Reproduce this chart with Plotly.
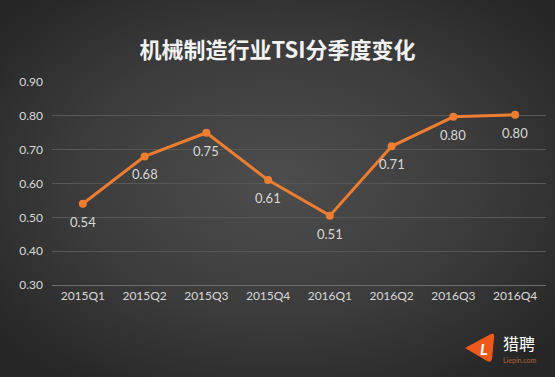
import base64
import plotly.graph_objects as go

categories = ["2015Q1", "2015Q2", "2015Q3", "2015Q4", "2016Q1", "2016Q2", "2016Q3", "2016Q4"]
tsi_values = [0.54, 0.68, 0.75, 0.61, 0.505, 0.71, 0.797, 0.803]
y_ticks = [0.30, 0.40, 0.50, 0.60, 0.70, 0.80, 0.90]
title_text = "机械制造行业TSI分季度变化"

W, H = 555, 377
svg = f'''<svg xmlns="http://www.w3.org/2000/svg" width="{W}" height="{H}" viewBox="0 0 {W} {H}" preserveAspectRatio="none">
<defs><radialGradient id="g" cx="50%" cy="48%" r="65%">
<stop offset="0%" stop-color="#4d4d4d"/><stop offset="55%" stop-color="#3c3c3c"/><stop offset="100%" stop-color="#262626"/>
</radialGradient></defs><rect width="{W}" height="{H}" fill="url(#g)"/></svg>'''
bg_uri = "data:image/svg+xml;base64," + base64.b64encode(svg.encode()).decode()

orange = "#ED7D31"
label_col = "#d9d9d9"
tick_font = dict(family="Lato, sans-serif", size=12, color=label_col)

fig = go.Figure()
fig.add_trace(go.Scatter(
    x=categories, y=tsi_values, mode="lines+markers",
    line=dict(color=orange, width=3),
    marker=dict(color=orange, size=8),
    hoverinfo="skip",
))
for c, v in zip(categories, tsi_values):
    fig.add_annotation(x=c, y=v, text=f"{v:.2f}", showarrow=False, yshift=-18,
                       font=dict(family="Lato, sans-serif", size=13, color=label_col))

# plot area: x 52..546 px, y 82..285 px
def px(x): return (x - 52) / 494
def py(y): return (285 - y) / 203

fig.update_layout(
    width=W, height=H,
    margin=dict(l=52, r=9, t=82, b=92),
    paper_bgcolor="#333333", plot_bgcolor="rgba(0,0,0,0)",
    showlegend=False,
    title=dict(text=f"<b>{title_text}</b>", x=0.5, xanchor="center", y=1 - 50 / H, yanchor="middle",
               font=dict(family="Noto Sans CJK SC", size=22, color="#f2f2f2")),
    images=[dict(source=bg_uri, xref="paper", yref="paper", x=px(0), y=py(0),
                 sizex=W / 494, sizey=H / 203, xanchor="left", yanchor="top",
                 sizing="stretch", layer="below")],
    xaxis=dict(type="category", showgrid=False, showline=True, linecolor="#6e6e6e", linewidth=1,
               tickfont=tick_font, ticks="",
               range=[-0.5, len(categories) - 0.5], fixedrange=True),
    yaxis=dict(range=[0.3, 0.9], tickvals=y_ticks, ticktext=[f"{t:.2f}" for t in y_ticks],
               showgrid=True, gridcolor="#575757", gridwidth=1, zeroline=False, showline=False,
               tickfont=tick_font, ticks="", ticklabelstandoff=8, fixedrange=True),
)

# Logo
fig.add_shape(type="path", xref="paper", yref="paper",
              path=f"M {px(465)} {py(348)} L {px(491)} {py(334)} Q {px(495)} {py(333)} {px(494)} {py(338)} "
                   f"L {px(492)} {py(359)} Q {px(491)} {py(363)} {px(487)} {py(361)} Z",
              fillcolor="#ef5a1c", line=dict(width=0))
logo_anno = dict(xref="paper", yref="paper", showarrow=False, xanchor="center", yanchor="middle")
fig.add_annotation(x=px(484), y=py(348), text="<b><i>L</i></b>",
                   font=dict(family="Lato", size=16, color="white"), **logo_anno)
fig.add_annotation(x=px(519), y=py(343), text="猎聘",
                   font=dict(family="Noto Sans CJK SC", size=16, color="white"), **logo_anno)
fig.add_annotation(x=px(519), y=py(360), text="Liepin.com",
                   font=dict(family="Lato", size=7, color="#b0643a"), **logo_anno)

fig.write_html("out.html", config={"displayModeBar": False},
               post_script="document.body.style.margin='0';document.body.style.overflow='hidden';")
